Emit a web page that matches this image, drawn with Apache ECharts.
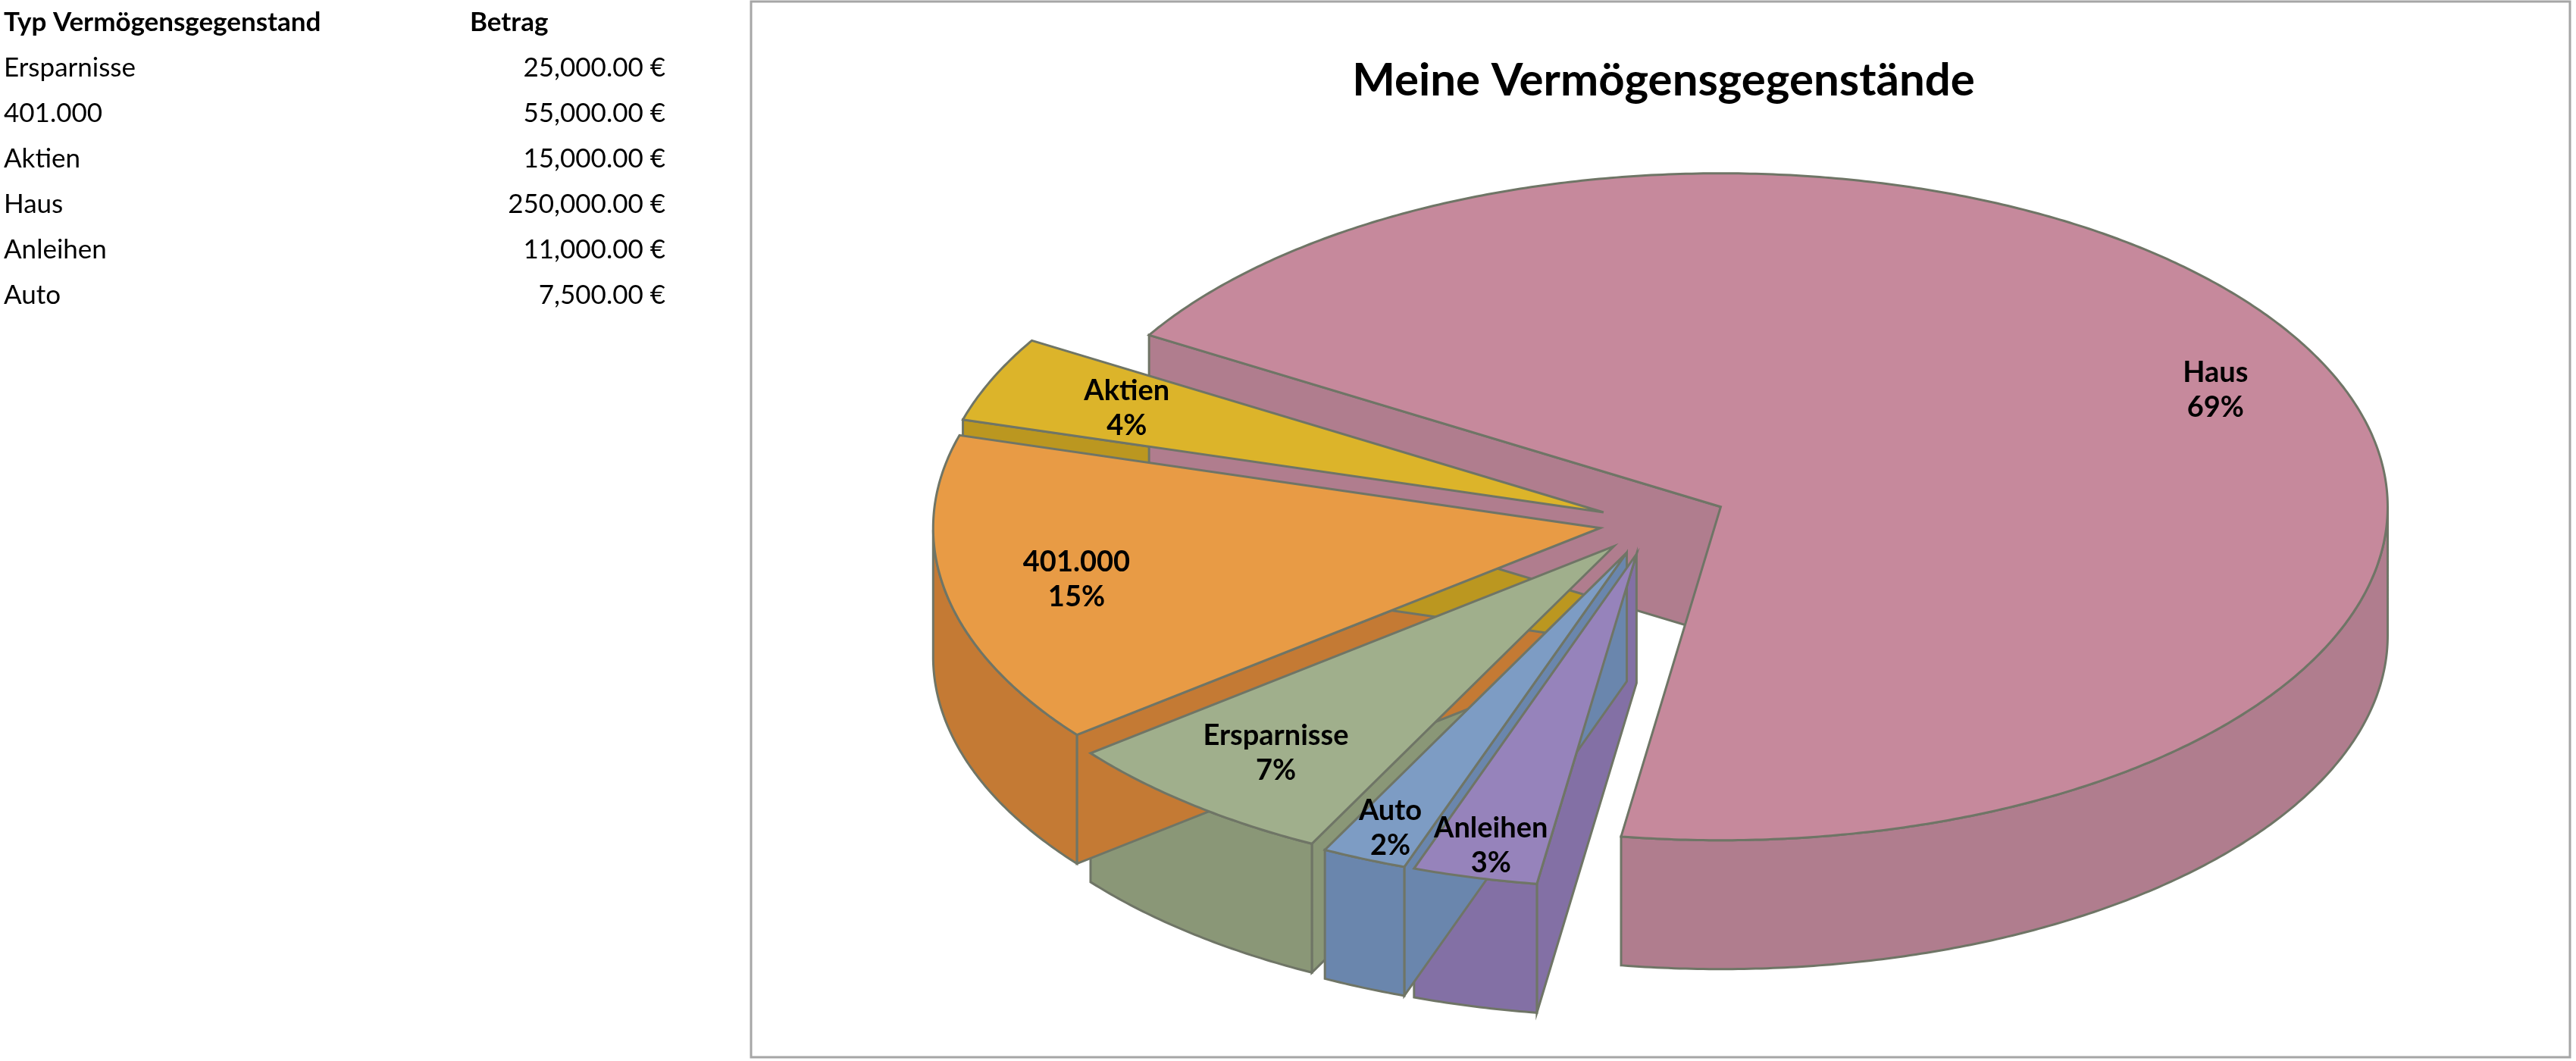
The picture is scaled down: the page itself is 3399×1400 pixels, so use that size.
<!DOCTYPE html>
<html><head><meta charset="utf-8">
<script src="https://cdn.jsdelivr.net/npm/echarts@6/dist/echarts.min.js"></script>
<style>html,body{margin:0;padding:0;background:#fff}#c{width:3399px;height:1400px}</style>
</head><body><div id="c"></div>
<script>
const categories = ['Ersparnisse','401.000','Aktien','Haus','Anleihen','Auto'];
const values = [25000,55000,15000,250000,11000,7500];
const tableHeader = ['Typ Vermögensgegenstand','Betrag'];
const chartTitle = 'Meine Vermögensgegenstände';
const topColors = ['#a0af8c','#e89b45','#dcb42a','#c6899c','#9683bb','#7d9cc4'];
const sideColors = ['#8a9777','#c47a34','#bb9720','#b07d8e','#8370a5','#6a86ad'];

const total = values.reduce((a,b)=>a+b,0);
const CX=2180, CY=690, R=880, SQ=0.5, DEPTH=170, START=149;
const offsets = [80,70,70,100,85,85];
const labelR = [0.8,0.8,0.78,0.82,0.9,0.9];
const D = Math.PI/180;
const ranges = [];
{ let a = START; for (let k=0;k<values.length;k++){ const i=(3+k)%values.length; const sw=values[i]/total*360; ranges[i]=[a,a-sw]; a-=sw; } }
function geom(i){
  const [a0,a1]=ranges[i]; const mid=(a0+a1)/2;
  const cx=CX+offsets[i]*Math.cos(mid*D), cy=CY-offsets[i]*Math.sin(mid*D)*SQ;
  const P=(t,r,dy)=>[cx+r*Math.cos(t*D), cy-r*Math.sin(t*D)*SQ+(dy||0)];
  return {a0,a1,mid,cx,cy,P};
}
function fmt(v){ const s=v.toFixed(2); const [ip,dp]=s.split('.'); return ip.replace(/\B(?=(\d{3})+(?!\d))/g,',')+'.'+dp+' €'; }
const stroke={stroke:'#6f7566',lineWidth:3};

function renderWalls(params){
  const i=params.dataIndex; const g=geom(i); const els=[];
  const wall=t=>{ const e=g.P(t,R);
    els.push({type:'polygon',shape:{points:[[g.cx,g.cy],e,[e[0],e[1]+DEPTH],[g.cx,g.cy+DEPTH]]},style:Object.assign({fill:sideColors[i]},stroke)}); };
  if(Math.cos(g.a0*D)<0) wall(g.a0);
  if(Math.cos(g.a1*D)>0) wall(g.a1);
  const pts=[];
  for(let t=g.a0;t>=g.a1-0.001;t-=0.5){ if(Math.sin(t*D)<=0.001) pts.push(t); }
  if(Math.sin(g.a1*D)<=0) pts.push(g.a1);
  if(pts.length>1){
    const top=pts.map(t=>g.P(t,R)), bot=pts.map(t=>g.P(t,R,DEPTH)).reverse();
    els.push({type:'polygon',shape:{points:top.concat(bot)},style:Object.assign({fill:sideColors[i]},stroke)});
  }
  return {type:'group',children:els};
}
function renderTops(params){
  const i=params.dataIndex; const g=geom(i);
  const pts=[[g.cx,g.cy]];
  for(let t=g.a0;t>g.a1;t-=0.5) pts.push(g.P(t,R));
  pts.push(g.P(g.a1,R));
  const lp=g.P(g.mid, labelR[i]*R);
  const pct=Math.round(values[i]/total*100)+'%';
  return {type:'group',children:[
    {type:'polygon',shape:{points:pts},style:Object.assign({fill:topColors[i]},stroke)},
    {type:'text',z2:10,style:{text:categories[i]+'\n'+pct,x:lp[0],y:lp[1],fill:'#000',font:'bold 38px Lato',align:'center',verticalAlign:'middle',lineHeight:46}}
  ]};
}
const graphics=[
  {type:'rect',shape:{x:991,y:2,width:2400,height:1393},style:{fill:'#fff',stroke:'#a6a6a6',lineWidth:3},z:-10},
  {type:'text',style:{text:tableHeader[0],x:5,y:30,font:'bold 35px Lato',fill:'#000',verticalAlign:'middle'}},
  {type:'text',style:{text:tableHeader[1],x:620,y:30,font:'bold 35px Lato',fill:'#000',verticalAlign:'middle'}}
];
categories.forEach((c,i)=>{
  graphics.push({type:'text',style:{text:c,x:5,y:90+i*60,font:'35px Lato',fill:'#000',verticalAlign:'middle'}});
  graphics.push({type:'text',style:{text:fmt(values[i]),x:878,y:90+i*60,font:'35px Lato',fill:'#000',align:'right',verticalAlign:'middle'}});
});
const chart=echarts.init(document.getElementById('c'));
chart.setOption({
  animation:false,
  title:{text:chartTitle,left:2190,top:102,textAlign:'center',textVerticalAlign:'middle',textStyle:{fontFamily:'Lato',fontWeight:'bold',fontSize:60,color:'#000'}},
  graphic:graphics,
  series:[
    {type:'custom',coordinateSystem:'none',renderItem:renderWalls,data:values,z:2,silent:true},
    {type:'custom',coordinateSystem:'none',renderItem:renderTops,data:values,z:3,silent:true}
  ]
});
</script></body></html>
